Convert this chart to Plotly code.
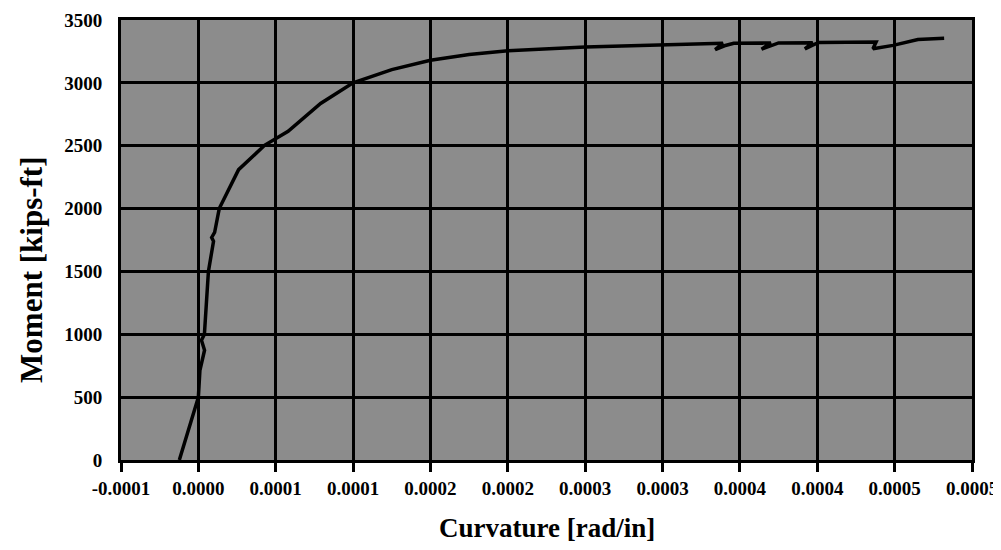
import plotly.graph_objects as go

# Moment-curvature data
curvature = [-1.23e-5, 0.0, 1.0e-6, 4.0e-6, 2.0e-6, 3.9e-6, 6.5e-6, 8.8e-6, 9.8e-6,
             8.6e-6, 1.05e-5, 1.35e-5, 1.98e-5, 2.6e-5, 4.3e-5, 5.8e-5, 7.9e-5,
             1.0e-4, 1.25e-4, 1.5e-4, 1.75e-4, 2.0e-4, 2.5e-4, 3.0e-4, 3.39e-4,
             3.34e-4, 3.40e-4, 3.46e-4, 3.70e-4, 3.64e-4, 3.70e-4, 3.75e-4,
             3.97e-4, 3.92e-4, 3.97e-4, 4.01e-4, 4.38e-4, 4.36e-4, 4.49e-4,
             4.57e-4, 4.65e-4, 4.82e-4]
moment = [0, 500, 713, 873, 953, 1000, 1500, 1650, 1740,
          1770, 1810, 2000, 2160, 2310, 2505, 2615, 2836,
          3000, 3105, 3180, 3225, 3256, 3285, 3305, 3315,
          3265, 3295, 3315, 3318, 3268, 3298, 3318,
          3320, 3270, 3300, 3322, 3325, 3272, 3298,
          3320, 3345, 3355]

x_tickvals = [-0.00005, 0.0, 0.00005, 0.0001, 0.00015, 0.0002, 0.00025,
              0.0003, 0.00035, 0.0004, 0.00045, 0.0005]
x_ticktext = ["-0.0001", "0.0000", "0.0001", "0.0001", "0.0002", "0.0002",
              "0.0003", "0.0003", "0.0004", "0.0004", "0.0005", "0.0005"]
y_tickvals = [0, 500, 1000, 1500, 2000, 2500, 3000, 3500]

font_family = "Liberation Serif"

fig = go.Figure()
fig.add_trace(go.Scatter(
    x=curvature, y=moment, mode="lines",
    line=dict(color="black", width=3.5),
    showlegend=False,
))

fig.update_layout(
    width=993, height=534,
    margin=dict(l=113, r=29, t=12, b=82, autoexpand=False),
    paper_bgcolor="white",
    plot_bgcolor="#8c8c8c",
    font=dict(family=font_family, color="black"),
    xaxis=dict(
        range=[-0.00005, 0.0005],
        tickmode="array", tickvals=x_tickvals, ticktext=x_ticktext,
        tickfont=dict(family=font_family, size=19, color="black", weight="bold"),
        ticklabeloverflow="allow",
        showgrid=True, gridcolor="black", gridwidth=3,
        showline=True, linecolor="black", linewidth=3, mirror=True,
        ticks="outside", ticklen=9, tickwidth=3, tickcolor="black",
        zeroline=False, automargin=False,
    ),
    yaxis=dict(
        range=[0, 3500],
        tickmode="array", tickvals=y_tickvals,
        tickfont=dict(family=font_family, size=19, color="black", weight="bold"),
        ticklabeloverflow="allow",
        showgrid=True, gridcolor="black", gridwidth=3,
        showline=True, linecolor="black", linewidth=3, mirror=True,
        ticks="outside", ticklen=12, tickcolor="rgba(0,0,0,0)",
        zeroline=False, automargin=False,
    ),
    annotations=[
        dict(text="<b>Curvature [rad/in]</b>", xref="paper", yref="paper",
             x=0.5, y=0, xanchor="center", yanchor="middle", yshift=-68,
             showarrow=False, font=dict(family=font_family, size=27, color="black")),
        dict(text="<b>Moment [kips-ft]</b>", xref="paper", yref="paper",
             x=0, y=0.432, xanchor="center", yanchor="middle", xshift=-89,
             textangle=-90,
             showarrow=False, font=dict(family=font_family, size=31, color="black")),
    ],
)

fig.write_html("out.html")
